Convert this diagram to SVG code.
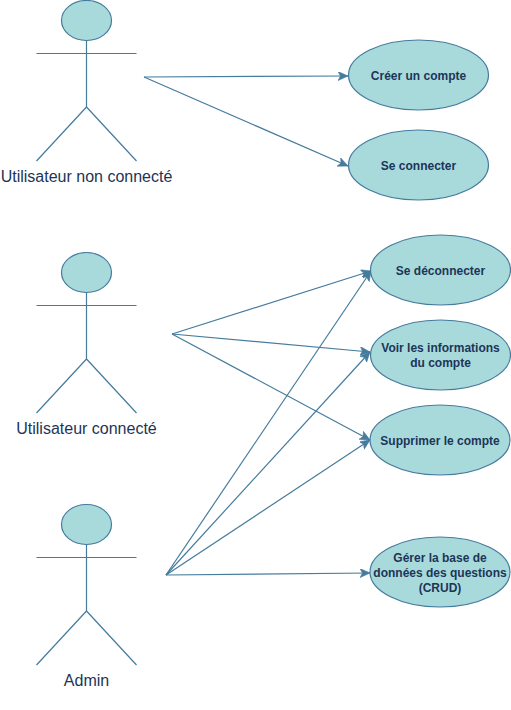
<svg xmlns="http://www.w3.org/2000/svg" width="511" height="710" viewBox="0 0 511 710">
<style>
text{font-family:"Liberation Sans",Arial,sans-serif;fill:#1d3557;text-anchor:middle}
.lbl{font-size:16px}
.uc{font-size:12px;font-weight:bold}
.shape{fill:#a8dadc;stroke:#457b9d;stroke-width:1.2}
.line{fill:none;stroke:#457b9d;stroke-width:1.2}
</style>
<defs>
<marker id="arrow" markerUnits="userSpaceOnUse" markerWidth="12" markerHeight="10" refX="10" refY="4.5" orient="auto"><path d="M0 0L10 4.500L0 9L2.500 4.500Z" fill="#457b9d" stroke="#457b9d" stroke-width="0.600"/></marker>
<g id="actor"><ellipse class="shape" cx="86.500" cy="20.500" rx="25" ry="20"/><path class="line" d="M86.500 40.500V107M36.500 53.500H136.500M36.500 161L86.500 107L136.500 161"/></g>
</defs>
<g id="connectors" class="line">
<line x1="144" y1="77" x2="348" y2="76" marker-end="url(#arrow)"/>
<line x1="144" y1="77" x2="348" y2="166" marker-end="url(#arrow)"/>
<line x1="172" y1="334" x2="371" y2="271" marker-end="url(#arrow)"/>
<line x1="172" y1="334" x2="370" y2="352" marker-end="url(#arrow)"/>
<line x1="172" y1="334" x2="370" y2="440" marker-end="url(#arrow)"/>
<line x1="166" y1="575" x2="371" y2="271" marker-end="url(#arrow)"/>
<line x1="166" y1="575" x2="370" y2="352" marker-end="url(#arrow)"/>
<line x1="166" y1="575" x2="370" y2="440" marker-end="url(#arrow)"/>
<line x1="166" y1="575" x2="370" y2="573" marker-end="url(#arrow)"/>
</g>
<g id="actor-non-connecte"><use href="#actor"/><text class="lbl" x="86.500" y="182">Utilisateur non connecté</text></g>
<g id="actor-connecte"><use href="#actor" y="252"/><text class="lbl" x="86.500" y="434">Utilisateur connecté</text></g>
<g id="actor-admin"><use href="#actor" y="504"/><text class="lbl" x="86.500" y="686">Admin</text></g>
<g id="uc-creer"><ellipse class="shape" cx="418.500" cy="75" rx="70" ry="35"/><text class="uc" x="418.500" y="79.500">Créer un compte</text></g>
<g id="uc-connecter"><ellipse class="shape" cx="418.500" cy="165" rx="70" ry="35"/><text class="uc" x="418.500" y="169.500">Se connecter</text></g>
<g id="uc-deconnecter"><ellipse class="shape" cx="440.500" cy="270" rx="70" ry="35"/><text class="uc" x="440.500" y="275">Se déconnecter</text></g>
<g id="uc-voir"><ellipse class="shape" cx="440.500" cy="355" rx="70" ry="35"/><text class="uc" x="440.500" y="352">Voir les informations</text><text class="uc" x="440.500" y="367">du compte</text></g>
<g id="uc-supprimer"><ellipse class="shape" cx="440" cy="440" rx="70" ry="35"/><text class="uc" x="440" y="445">Supprimer le compte</text></g>
<g id="uc-gerer"><ellipse class="shape" cx="440" cy="572" rx="70" ry="35"/><text class="uc" x="440" y="562">Gérer la base de</text><text class="uc" x="440" y="577">données des questions</text><text class="uc" x="440" y="591.500">(CRUD)</text></g>
</svg>
